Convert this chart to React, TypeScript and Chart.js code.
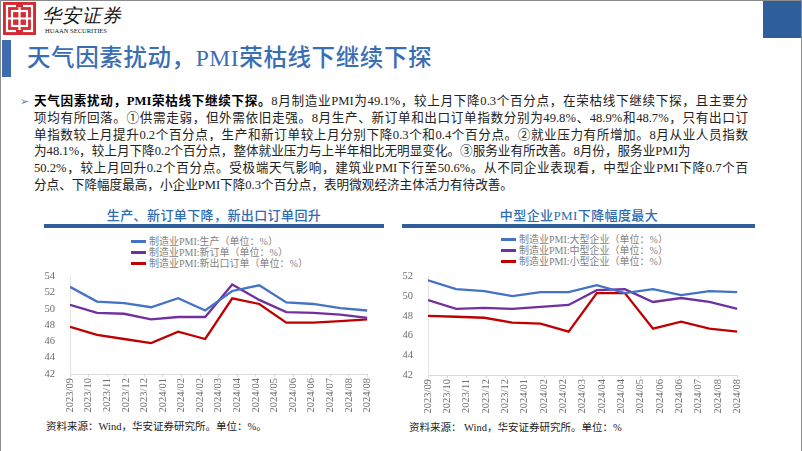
import React, { useEffect, useRef } from "react";
import { Chart, registerables } from "chart.js";
Chart.register(...registerables);

// ---------- data ----------
const months = ["2023/09", "2023/10", "2023/11", "2023/12", "2024/01", "2024/02", "2024/03", "2024/04", "2024/05", "2024/06", "2024/07", "2024/08"];
const xTickLabels = ["2023/09", "2023/10", "2023/11", "2023/12", "2023/12", "2024/01", "2024/02", "2024/02", "2024/03", "2024/04", "2024/04", "2024/05", "2024/06", "2024/06", "2024/07", "2024/08", "2024/08"];

const production = [52.7, 50.9, 50.7, 50.2, 51.3, 49.8, 52.2, 52.9, 50.8, 50.6, 50.1, 49.8];
const newOrders = [50.5, 49.5, 49.4, 48.7, 49.0, 49.0, 53.0, 51.1, 49.6, 49.5, 49.3, 48.9];
const newExportOrders = [47.8, 46.8, 46.3, 45.8, 47.2, 46.3, 51.3, 50.6, 48.3, 48.3, 48.5, 48.7];

const largeEnt = [51.6, 50.7, 50.5, 50.0, 50.4, 50.4, 51.1, 50.3, 50.7, 50.1, 50.5, 50.4];
const mediumEnt = [49.6, 48.7, 48.8, 48.7, 48.9, 49.1, 50.6, 50.7, 49.4, 49.8, 49.4, 48.7];
const smallEnt = [48.0, 47.9, 47.8, 47.3, 47.2, 46.4, 50.3, 50.3, 46.7, 47.4, 46.7, 46.4];

const leftNames = ["制造业PMI:生产（单位：%）", "制造业PMI:新订单（单位：%）", "制造业PMI:新出口订单（单位：%）"];
const rightNames = ["制造业PMI:大型企业（单位：%）", "制造业PMI:中型企业（单位：%）", "制造业PMI:小型企业（单位：%）"];
const lineColors = ["#4472C4", "#7030A0", "#C00000"];

const SERIF = '"Liberation Serif", "Times New Roman", serif';
const CJK = '"Liberation Serif", "Noto Sans CJK SC", sans-serif';

type ChartProps = {
  left: number;
  top: number;
  width: number;
  height: number;
  yMin: number;
  yMax: number;
  series: number[][];
  names: string[];
  padRight: number;
  padTop: number;
};

function LineChart(p: ChartProps) {
  const ref = useRef<HTMLCanvasElement | null>(null);
  useEffect(() => {
    if (!ref.current) return;
    const n = months.length - 1;
    const chart = new Chart(ref.current, {
      type: "line",
      data: {
        datasets: p.series.map((s, k) => ({
          label: p.names[k],
          data: s.map((v, i) => ({ x: i, y: v })),
          borderColor: lineColors[k],
          backgroundColor: lineColors[k],
          borderWidth: 2.3,
          pointRadius: 0,
          tension: 0,
          fill: false,
        })),
      },
      options: {
        animation: false,
        responsive: false,
        maintainAspectRatio: false,
        layout: { padding: { top: p.padTop, right: p.padRight, left: 0, bottom: 0 } },
        plugins: { legend: { display: false }, tooltip: { enabled: false }, title: { display: false } },
        scales: {
          x: {
            type: "linear",
            min: 0,
            max: n,
            afterBuildTicks: (scale: any) => {
              scale.ticks = xTickLabels.map((_, i) => ({ value: (i * n) / (xTickLabels.length - 1) }));
            },
            afterFit: (scale: any) => {
              scale.height = 40;
            },
            grid: { display: true, drawOnChartArea: false, drawTicks: true, tickLength: 3, color: "#D9D9D9" },
            border: { display: true, color: "#D9D9D9", width: 1 },
            ticks: {
              autoSkip: false,
              minRotation: 90,
              maxRotation: 90,
              padding: 1,
              color: "#6E6E6E",
              font: { family: SERIF, size: 10.5 },
              callback: (_v: any, i: number) => xTickLabels[i],
            },
          },
          y: {
            min: p.yMin,
            max: p.yMax,
            afterFit: (scale: any) => {
              scale.width = 29;
            },
            grid: { display: false },
            border: { display: true, color: "#E3E3E3", width: 1, dash: [2, 2] },
            ticks: {
              stepSize: 2,
              padding: 7,
              color: "#6E6E6E",
              font: { family: SERIF, size: 10.5 },
            },
          },
        },
      },
    } as any);
    return () => chart.destroy();
  }, []);
  return (
    <canvas
      ref={ref}
      width={p.width}
      height={p.height}
      style={{ position: "absolute", left: p.left, top: p.top, width: p.width, height: p.height }}
    />
  );
}

function Legend({ left, top, names }: { left: number; top: number; names: string[] }) {
  return (
    <div style={{ position: "absolute", left, top }}>
      {names.map((nm, i) => (
        <div key={i} style={{ display: "flex", alignItems: "center", height: 11, whiteSpace: "nowrap" }}>
          <span style={{ display: "inline-block", width: 15, height: 2.5, background: lineColors[i], marginRight: 3 }} />
          <span style={{ fontFamily: CJK, fontSize: 10, color: "#7F7F7F", lineHeight: "11px" }}>{nm}</span>
        </div>
      ))}
    </div>
  );
}

const paraLines = [
  "8月制造业PMI为49.1%，较上月下降0.3个百分点，在荣枯线下继续下探，且主要分",
  "项均有所回落。①供需走弱，但外需依旧走强。8月生产、新订单和出口订单指数分别为49.8%、48.9%和48.7%，只有出口订",
  "单指数较上月提升0.2个百分点，生产和新订单较上月分别下降0.3个和0.4个百分点。②就业压力有所增加。8月从业人员指数",
  "为48.1%，较上月下降0.2个百分点，整体就业压力与上半年相比无明显变化。③服务业有所改善。8月份，服务业PMI为",
  "50.2%，较上月回升0.2个百分点。受极端天气影响，建筑业PMI下行至50.6%。从不同企业表现看，中型企业PMI下降0.7个百",
  "分点、下降幅度最高，小企业PMI下降0.3个百分点，表明微观经济主体活力有待改善。",
];
const paraLead = "天气因素扰动，PMI荣枯线下继续下探。";
const justifyLine = [true, true, true, false, true, false];

function Logo() {
  return (
    <div style={{ position: "absolute", left: 2, top: 1, width: 33, height: 33, background: "#D42A31" }}>
      <svg width="33" height="33" viewBox="0 0 33 33">
        <g fill="none" stroke="#fff" strokeWidth="2.2">
          <rect x="4" y="4" width="25" height="25" />
          <path d="M4 16.5 H29 M16.5 4 V29" />
          <rect x="9" y="9" width="15" height="15" />
        </g>
        <g fill="#D42A31">
          <rect x="13" y="2" width="7" height="3" />
          <rect x="13" y="28" width="7" height="3" />
        </g>
      </svg>
    </div>
  );
}

export default function App() {
  useEffect(() => {
    document.body.style.margin = "0";
  }, []);
  return (
    <div
      style={{
        position: "fixed",
        left: 0,
        top: 0,
        width: 802,
        height: 451,
        background: "#fff",
        boxSizing: "border-box",
        borderTop: "1px solid #8C8C8C",
        borderLeft: "1px solid #8C8C8C",
        borderRight: "1px solid #8C8C8C",
        overflow: "hidden",
        fontFamily: CJK,
      }}
    >
      <Logo />
      <div style={{ position: "absolute", left: 41, top: 4, fontFamily: SERIF, fontSize: 19, fontStyle: "italic", fontWeight: 400, letterSpacing: 1, color: "#111", lineHeight: "22px" }}>
        华安证券
      </div>
      <div style={{ position: "absolute", left: 44, top: 26, fontFamily: SERIF, fontSize: 6.5, color: "#111", lineHeight: "8px", letterSpacing: 0 }}>
        HUAAN SECURITIES
      </div>
      <div style={{ position: "absolute", left: 762, top: 0, width: 40, height: 37, background: "#2F5F9B" }} />
      <div style={{ position: "absolute", left: 1, top: 39, width: 9, height: 37, background: "#3E6CAE" }} />
      <div style={{ position: "absolute", left: 26, top: 42, fontSize: 23.5, fontWeight: 500, color: "#3A6EB4", lineHeight: "30px", whiteSpace: "nowrap", letterSpacing: 0.6 }}>
        天气因素扰动，PMI荣枯线下继续下探
      </div>

      <div style={{ position: "absolute", left: 19, top: 92, fontSize: 11, color: "#5A7FB5", lineHeight: "16px" }}>➢</div>
      <div style={{ position: "absolute", left: 33, top: 92, width: 714, fontSize: 12.6, color: "#222", lineHeight: "16.8px" }}>
        {paraLines.map((ln, i) => (
          <div
            key={i}
            style={{
              whiteSpace: "nowrap",
              textAlign: justifyLine[i] ? "justify" : "left",
              textAlignLast: justifyLine[i] ? "justify" : "left",
              overflow: "visible",
            } as any}
          >
            {i === 0 ? <b style={{ fontWeight: 700, color: "#000" }}>{paraLead}</b> : null}
            {ln}
          </div>
        ))}
      </div>

      {/* left chart */}
      <div style={{ position: "absolute", left: 43, width: 340, top: 206, textAlign: "center", fontSize: 13, fontWeight: 500, color: "#2E6BB0", letterSpacing: 0.4, lineHeight: "18px" }}>
        生产、新订单下降，新出口订单回升
      </div>
      <div style={{ position: "absolute", left: 43, top: 223, width: 340, height: 3.5, background: "#2F5F9B" }} />
      <Legend left={130} top={235} names={leftNames} />
      <LineChart left={40} top={262} width={340} height={151} yMin={42} yMax={54} series={[production, newOrders, newExportOrders]} names={leftNames} padRight={7} padTop={10} />
      <div style={{ position: "absolute", left: 45, top: 419, fontSize: 10.5, color: "#222", lineHeight: "14px", whiteSpace: "nowrap" }}>
        资料来源：Wind，华安证券研究所。单位：%。
      </div>

      {/* right chart */}
      <div style={{ position: "absolute", left: 402, width: 352, top: 206, textAlign: "center", fontSize: 13, fontWeight: 500, color: "#2E6BB0", letterSpacing: 0.4, lineHeight: "18px" }}>
        中型企业PMI下降幅度最大
      </div>
      <div style={{ position: "absolute", left: 401, top: 223, width: 353, height: 3.5, background: "#2F5F9B" }} />
      <Legend left={500} top={233} names={rightNames} />
      <LineChart left={398} top={262} width={352} height={152} yMin={42} yMax={52} series={[largeEnt, mediumEnt, smallEnt]} names={rightNames} padRight={7} padTop={10} />
      <div style={{ position: "absolute", left: 408, top: 420, fontSize: 10.5, color: "#222", lineHeight: "14px", whiteSpace: "nowrap" }}>
        资料来源： Wind，华安证券研究所。单位：%
      </div>
    </div>
  );
}
